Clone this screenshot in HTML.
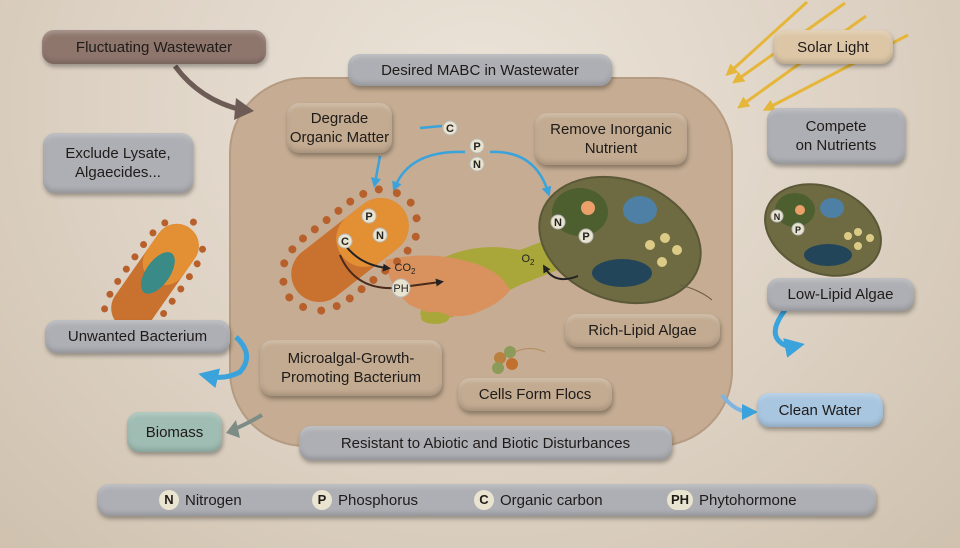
<!DOCTYPE html>
<html><head><meta charset="utf-8"><style>
html,body{margin:0;padding:0;width:960px;height:548px;overflow:hidden}
body{background:radial-gradient(ellipse at 50% 20%,#ece4d9 0%,#ddd2c4 55%,#cfc1ae 100%);position:relative;font-family:"Liberation Sans","DejaVu Sans",sans-serif}
.b{position:absolute;display:flex;align-items:center;justify-content:center;text-align:center;font-size:15px;line-height:19px;color:#1f1b19;border-radius:12px;box-shadow:1px 3px 4px rgba(0,0,0,.3),inset 0 -3px 5px rgba(0,0,0,.15),inset 0 3px 4px rgba(255,255,255,.25)}
.g{background:#aeafb4}.t{background:#c3ab91}
svg{position:absolute;left:0;top:0}
</style></head><body>
<svg width="960" height="548" viewBox="0 0 960 548">
<defs>
<marker id="ab" viewBox="0 0 10 10" refX="5" refY="5" markerWidth="4" markerHeight="4" orient="auto"><path d="M0,0L10,5L0,10z" fill="#3aa3dc"/></marker>
<marker id="ak" viewBox="0 0 10 10" refX="5" refY="5" markerWidth="4" markerHeight="4" orient="auto"><path d="M0,0L10,5L0,10z" fill="#222"/></marker>
<marker id="ay" viewBox="0 0 10 10" refX="5" refY="5" markerWidth="4" markerHeight="4" orient="auto"><path d="M0,0L10,5L0,10z" fill="#e6b63a"/></marker>
</defs>
<rect x="230" y="78" width="502" height="368" rx="75" fill="#c5ac92" stroke="#b49b82" stroke-width="2"/>
<path d="M175,66 Q200,100 242,110" fill="none" stroke="#6d5c55" stroke-width="5"/>
<path d="M236,98 L254,111 L234,120z" fill="#6d5c55"/>
<g stroke="#e6b63a" stroke-width="3" marker-end="url(#ay)">
<line x1="807" y1="2" x2="730" y2="72"/><line x1="845" y1="3" x2="737" y2="80"/>
<line x1="866" y1="16" x2="742" y2="105"/><line x1="908" y1="35" x2="768" y2="108"/>
</g>
<g fill="none" stroke="#3aa3dc" stroke-width="2.5">
<path d="M420,128 L442,126"/>
<path d="M380,156 L375,183" marker-end="url(#ab)"/>
<path d="M465,152 Q410,150 395,187" marker-end="url(#ab)"/>
<path d="M490,152 Q535,150 548,192" marker-end="url(#ab)"/>
<path d="M236,337 Q255,355 240,372 Q225,380 208,376" stroke-width="5" marker-end="url(#ab)"/>
<path d="M785,310 Q770,330 778,340 Q785,348 795,346" stroke-width="5" marker-end="url(#ab)"/>
<path d="M722,395 Q735,412 750,412" stroke="#7fb4e0" stroke-width="4" marker-end="url(#ab)"/>
</g>
<path d="M262,415 Q245,425 232,430" stroke="#7d8d86" stroke-width="4" fill="none"/>
<path d="M236,420 L226,433 L240,438z" fill="#7d8d86"/>
<path d="M430,265 Q470,240 520,250 L560,235 L570,265 L520,285 Q490,300 470,310 Q440,325 420,315z" fill="#a9a63a"/>
<path d="M385,260 Q430,250 470,262 Q500,270 510,290 Q500,305 470,315 Q440,320 410,305 Q390,290 385,260z" fill="#d9925d"/>
<ellipse cx="435" cy="318" rx="14" ry="6" fill="#a9a63a"/>
<g transform="rotate(-38 350 250)">
<g fill="#b8602c">
<circle cx="290" cy="220" r="4"/><circle cx="305" cy="214" r="4"/><circle cx="320" cy="212" r="4"/><circle cx="335" cy="212" r="4"/><circle cx="350" cy="212" r="4"/><circle cx="365" cy="212" r="4"/><circle cx="380" cy="212" r="4"/><circle cx="395" cy="214" r="4"/><circle cx="410" cy="220" r="4"/>
<circle cx="290" cy="280" r="4"/><circle cx="305" cy="286" r="4"/><circle cx="320" cy="288" r="4"/><circle cx="335" cy="288" r="4"/><circle cx="350" cy="288" r="4"/><circle cx="365" cy="288" r="4"/><circle cx="380" cy="288" r="4"/><circle cx="395" cy="286" r="4"/><circle cx="410" cy="280" r="4"/>
<circle cx="273" cy="250" r="4"/><circle cx="427" cy="250" r="4"/><circle cx="278" cy="234" r="4"/><circle cx="278" cy="266" r="4"/><circle cx="422" cy="234" r="4"/><circle cx="422" cy="266" r="4"/>
</g>
<rect x="283" y="222" width="134" height="56" rx="28" fill="#c9712f"/>
<rect x="340" y="222" width="77" height="56" rx="28" fill="#e38f34"/>
</g>
<g transform="translate(0,-8) rotate(-55 155 285)">
<g fill="#b8602c"><circle cx="100" cy="262" r="3.5"/><circle cx="115" cy="258" r="3.5"/><circle cx="130" cy="257" r="3.5"/><circle cx="145" cy="257" r="3.5"/><circle cx="160" cy="257" r="3.5"/><circle cx="175" cy="257" r="3.5"/><circle cx="190" cy="258" r="3.5"/><circle cx="205" cy="262" r="3.5"/>
<circle cx="100" cy="308" r="3.5"/><circle cx="115" cy="312" r="3.5"/><circle cx="130" cy="313" r="3.5"/><circle cx="145" cy="313" r="3.5"/><circle cx="160" cy="313" r="3.5"/><circle cx="175" cy="313" r="3.5"/><circle cx="190" cy="312" r="3.5"/><circle cx="205" cy="308" r="3.5"/><circle cx="88" cy="285" r="3.5"/><circle cx="222" cy="285" r="3.5"/></g>
<rect x="95" y="263" width="120" height="44" rx="22" fill="#c9712f"/>
<rect x="150" y="263" width="65" height="44" rx="22" fill="#e38f34"/>
<ellipse cx="160" cy="285" rx="24" ry="12" fill="#3a8a88"/>
</g>
<g>
<ellipse cx="620" cy="240" rx="83" ry="60" transform="rotate(20 620 240)" fill="#6e6b43" stroke="#5a5836" stroke-width="2"/>
<ellipse cx="580" cy="212" rx="28" ry="24" fill="#4d5f2f"/>
<circle cx="588" cy="208" r="7" fill="#eba06a"/>
<ellipse cx="640" cy="210" rx="17" ry="14" fill="#4e7fa5"/>
<ellipse cx="622" cy="273" rx="30" ry="14" fill="#23455a"/>
<g fill="#dccb86"><circle cx="650" cy="245" r="5"/><circle cx="665" cy="238" r="5"/><circle cx="677" cy="250" r="5"/><circle cx="662" cy="262" r="5"/></g>
<path d="M680,285 Q700,290 712,300" stroke="#6a5a40" fill="none"/>
<path d="M578,276 Q555,285 545,268" stroke="#222" stroke-width="2" fill="none" marker-end="url(#ak)"/>
</g>
<g>
<ellipse cx="823" cy="230" rx="60" ry="43" transform="rotate(22 823 230)" fill="#6e6b43" stroke="#5a5836" stroke-width="2"/>
<ellipse cx="795" cy="210" rx="20" ry="17" fill="#4d5f2f"/><circle cx="800" cy="210" r="5" fill="#eba06a"/>
<ellipse cx="832" cy="208" rx="12" ry="10" fill="#4e7fa5"/>
<ellipse cx="828" cy="255" rx="24" ry="11" fill="#23455a"/>
<g fill="#dccb86"><circle cx="848" cy="236" r="4"/><circle cx="858" cy="232" r="4"/><circle cx="870" cy="238" r="4"/><circle cx="858" cy="246" r="4"/></g>
</g>
<g><circle cx="500" cy="358" r="6" fill="#b9803f"/><circle cx="510" cy="352" r="6" fill="#8c9a5a"/><circle cx="498" cy="368" r="6" fill="#8c9a5a"/><circle cx="512" cy="364" r="6" fill="#c2702e"/><path d="M515,352 Q530,345 545,352" stroke="#b08b5b" fill="none"/></g>
<path d="M345,245 Q360,265 387,268" stroke="#222" stroke-width="2" fill="none" marker-end="url(#ak)"/>
<path d="M340,255 Q355,290 395,288 L440,282" stroke="#4a2a1a" stroke-width="2" fill="none" marker-end="url(#ak)"/>
<g font-size="11" font-weight="bold" fill="#222" text-anchor="middle" font-family="Liberation Sans,sans-serif">
<g fill="#e9e4cf" stroke="#bbb"><circle cx="450" cy="128" r="7"/><circle cx="477" cy="146" r="7"/><circle cx="477" cy="164" r="7"/><circle cx="369" cy="216" r="7"/><circle cx="380" cy="235" r="7"/><circle cx="345" cy="241" r="7"/><circle cx="401" cy="288" r="9"/><circle cx="558" cy="222" r="7"/><circle cx="586" cy="236" r="7"/><circle cx="777" cy="216" r="6"/><circle cx="798" cy="229" r="6"/></g>
<text x="450" y="132" fill="#222">C</text><text x="477" y="150" fill="#222">P</text><text x="477" y="168" fill="#222">N</text>
<text x="369" y="220" fill="#222">P</text><text x="380" y="239" fill="#222">N</text><text x="345" y="245" fill="#222">C</text>
<text x="401" y="292" fill="#222" font-weight="normal">PH</text>
<text x="558" y="226" fill="#222">N</text><text x="586" y="240" fill="#222">P</text>
<text x="777" y="220" fill="#222" font-size="9">N</text><text x="798" y="233" fill="#222" font-size="9">P</text>
<text x="405" y="271" fill="#222" font-weight="normal">CO<tspan font-size="8" dy="3">2</tspan></text>
<text x="528" y="262" fill="#222" font-weight="normal">O<tspan font-size="8" dy="3">2</tspan></text>
</g>
</svg>
<div class="b" style="left:42px;top:30px;width:224px;height:34px;background:#8e766c">Fluctuating Wastewater</div>
<div class="b g" style="left:348px;top:54px;width:264px;height:32px">Desired MABC in Wastewater</div>
<div class="b t" style="left:287px;top:103px;width:105px;height:50px">Degrade<br>Organic Matter</div>
<div class="b t" style="left:535px;top:113px;width:152px;height:52px">Remove Inorganic<br>Nutrient</div>
<div class="b" style="left:773px;top:30px;width:120px;height:34px;background:#dcc6a6">Solar Light</div>
<div class="b g" style="left:767px;top:108px;width:138px;height:56px">Compete<br>on Nutrients</div>
<div class="b g" style="left:43px;top:133px;width:150px;height:60px">Exclude Lysate,<br>Algaecides...</div>
<div class="b g" style="left:767px;top:278px;width:147px;height:33px">Low-Lipid Algae</div>
<div class="b g" style="left:45px;top:320px;width:185px;height:33px">Unwanted Bacterium</div>
<div class="b t" style="left:260px;top:340px;width:182px;height:56px">Microalgal-Growth-<br>Promoting Bacterium</div>
<div class="b t" style="left:565px;top:314px;width:155px;height:33px">Rich-Lipid Algae</div>
<div class="b t" style="left:458px;top:378px;width:154px;height:33px">Cells Form Flocs</div>
<div class="b" style="left:757px;top:393px;width:126px;height:34px;background:#a9c6e0">Clean Water</div>
<div class="b" style="left:127px;top:412px;width:95px;height:40px;background:#9fbdb3">Biomass</div>
<div class="b g" style="left:299px;top:426px;width:373px;height:34px">Resistant to Abiotic and Biotic Disturbances</div>
<div class="b g" style="left:97px;top:484px;width:779px;height:32px;justify-content:flex-start">
<span style="position:absolute;left:62px;top:6px;display:flex;align-items:center;gap:6px"><b style="display:inline-block;width:20px;height:20px;border-radius:50%;background:#e9e4cf;font-size:13px;line-height:20px">N</b>Nitrogen</span>
<span style="position:absolute;left:215px;top:6px;display:flex;align-items:center;gap:6px"><b style="display:inline-block;width:20px;height:20px;border-radius:50%;background:#e9e4cf;font-size:13px;line-height:20px">P</b>Phosphorus</span>
<span style="position:absolute;left:377px;top:6px;display:flex;align-items:center;gap:6px"><b style="display:inline-block;width:20px;height:20px;border-radius:50%;background:#e9e4cf;font-size:13px;line-height:20px">C</b>Organic carbon</span>
<span style="position:absolute;left:570px;top:6px;display:flex;align-items:center;gap:6px"><b style="display:inline-block;width:26px;height:20px;border-radius:10px;background:#e9e4cf;font-size:13px;line-height:20px">PH</b>Phytohormone</span>
</div>
</body></html>
